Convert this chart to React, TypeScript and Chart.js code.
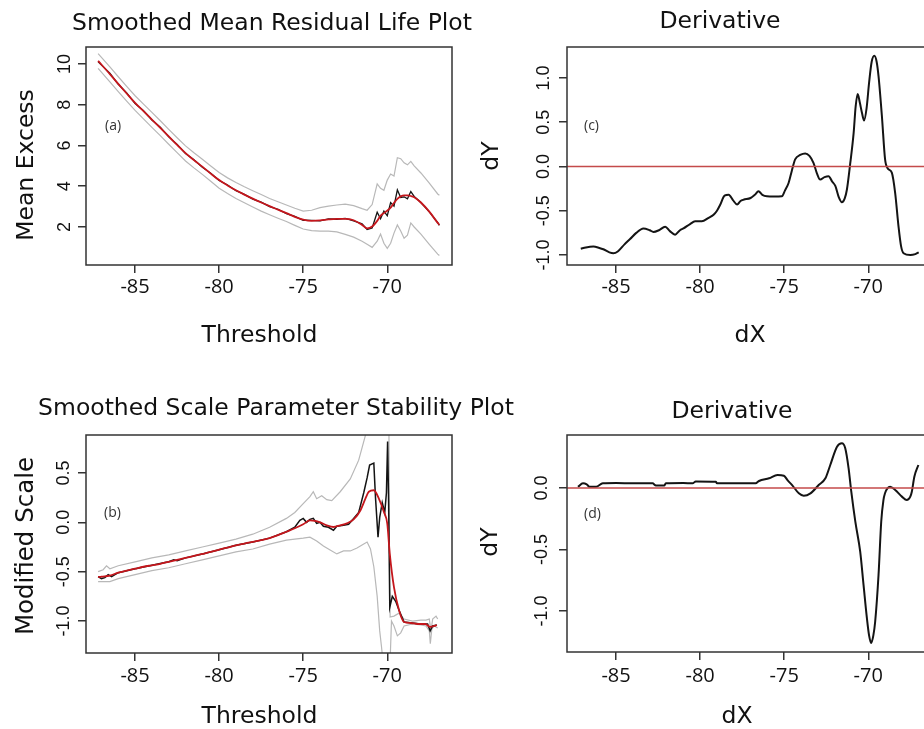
import React, { useEffect, useRef } from 'react';
import { Chart, registerables } from 'chart.js';

Chart.register(...registerables);

// ---------- shared axis values ----------
const X_MIN = -87.92;
const X_MAX = -66.15;
const xTickValues = [-85, -80, -75, -70];
const ZERO_LEVEL = 0;

// ---------- panel (a): mean residual life ----------
const xA = [-87.2, -86.5, -86, -85.5, -85, -84.5, -84, -83.5, -83, -82.5, -82, -81.5, -81, -80.5, -80, -79.5, -79, -78.5, -78, -77.5, -77, -76.5, -76, -75.5, -75, -74.5, -74, -73.5, -73, -72.5, -72, -71.5, -71.2, -70.9, -70.6, -70.4, -70.2, -70, -69.8, -69.6, -69.4, -69.2, -69, -68.8, -68.6, -68.4, -68, -67.5, -67, -66.9];
const smoothA = [10.15, 9.5, 9.02, 8.55, 8.09, 7.68, 7.27, 6.86, 6.44, 6.03, 5.62, 5.28, 4.96, 4.62, 4.3, 4.04, 3.8, 3.59, 3.39, 3.2, 3.02, 2.85, 2.68, 2.5, 2.36, 2.3, 2.32, 2.37, 2.4, 2.4, 2.33, 2.1, 1.93, 2.02, 2.3, 2.55, 2.68, 2.8, 2.95, 3.18, 3.38, 3.5, 3.55, 3.55, 3.52, 3.46, 3.2, 2.75, 2.2, 2.1];
const rawA = [10.1, 9.55, 9.0, 8.58, 8.05, 7.7, 7.25, 6.9, 6.42, 6.05, 5.6, 5.3, 4.93, 4.64, 4.28, 4.06, 3.78, 3.6, 3.37, 3.22, 3.0, 2.87, 2.66, 2.52, 2.33, 2.32, 2.3, 2.4, 2.38, 2.42, 2.3, 2.15, 1.88, 1.95, 2.72, 2.4, 2.78, 2.55, 3.2, 3.02, 3.82, 3.45, 3.48, 3.38, 3.74, 3.5, 3.2, 2.74, 2.22, 2.08];
const upperA = [10.5, 9.85, 9.37, 8.9, 8.44, 8.03, 7.62, 7.21, 6.79, 6.38, 5.98, 5.64, 5.32, 4.99, 4.67, 4.41, 4.18, 3.97, 3.78, 3.59, 3.4, 3.24, 3.08, 2.92, 2.78, 2.82, 2.95, 3.02, 3.08, 3.12, 3.05, 2.9, 2.82, 3.1, 4.12, 3.9, 3.8, 4.3, 4.6, 4.5, 5.4, 5.35, 5.15, 5.05, 5.22, 5.0, 4.65, 4.15, 3.62, 3.56];
const lowerA = [9.78, 9.12, 8.64, 8.17, 7.72, 7.3, 6.89, 6.48, 6.06, 5.65, 5.24, 4.9, 4.58, 4.24, 3.9, 3.64, 3.4, 3.19, 2.98, 2.78, 2.6, 2.43, 2.27, 2.08, 1.9, 1.82, 1.8, 1.8, 1.76, 1.64, 1.5, 1.3, 1.15, 1.0, 1.3, 1.65, 1.2, 0.95, 1.2, 1.7, 2.1, 1.8, 1.45, 1.6, 2.2, 2.0, 1.65, 1.15, 0.67, 0.6];
const yTicksA = [2, 4, 6, 8, 10];

// ---------- panel (b): scale parameter stability ----------
const xBsmooth = [-87.2, -87, -86.5, -86, -85.5, -85, -84.5, -84, -83.5, -83, -82.5, -82, -81.5, -81, -80.5, -80, -79.5, -79, -78.5, -78, -77.5, -77, -76.5, -76, -75.5, -75, -74.6, -74.3, -74, -73.6, -73.2, -72.8, -72.4, -72, -71.6, -71.3, -71.1, -70.8, -70.5, -70.2, -70, -69.85, -69.6, -69.3, -69, -68.6, -68.2, -67.74, -67.44, -67.2, -67.05];
const smoothB = [-0.555, -0.55, -0.54, -0.51, -0.49, -0.47, -0.45, -0.435, -0.42, -0.4, -0.38, -0.36, -0.34, -0.32, -0.3, -0.277, -0.255, -0.233, -0.215, -0.197, -0.18, -0.16, -0.13, -0.095, -0.06, -0.02, 0.02, 0.015, 0.0, -0.03, -0.047, -0.03, -0.01, 0.03, 0.12, 0.24, 0.31, 0.325, 0.24, 0.105, -0.013, -0.32, -0.66, -0.89, -1.01, -1.02, -1.03, -1.03, -1.06, -1.05, -1.04];
const xBraw = [-87.2, -87.0, -86.8, -86.6, -86.4, -86, -85, -84, -83, -82.7, -82.5, -82, -81, -80, -79, -78, -77, -76, -75.5, -75.2, -75.0, -74.8, -74.6, -74.4, -74.2, -74.0, -73.8, -73.5, -73.2, -73.0, -72.6, -72.3, -72.0, -71.7, -71.4, -71.2, -71.05, -70.8, -70.7, -70.55, -70.45, -70.3, -70.15, -70.05, -69.98, -69.92, -69.85, -69.7, -69.5, -69.3, -69.0, -68.5, -68, -67.6, -67.45, -67.3, -67.05];
const rawB = [-0.55, -0.57, -0.56, -0.53, -0.55, -0.51, -0.47, -0.435, -0.4, -0.38, -0.39, -0.36, -0.32, -0.277, -0.233, -0.2, -0.16, -0.095, -0.05, 0.02, 0.04, 0.0, 0.03, 0.04, -0.01, 0.0, -0.04, -0.05, -0.08, -0.04, -0.03, -0.02, 0.04, 0.1, 0.3, 0.45, 0.58, 0.6, 0.25, -0.15, 0.05, 0.2, 0.1, 0.3, 0.82, 0.2, -0.86, -0.75, -0.8, -0.89, -1.01, -1.02, -1.03, -1.03, -1.1, -1.05, -1.04];
const xBupper = [-87.2, -86.9, -86.7, -86.5, -86, -85, -84, -83, -82, -81, -80, -79, -78, -77, -76, -75.5, -75, -74.6, -74.4, -74.2, -73.9, -73.6, -73.3, -72.8, -72.2, -71.7, -71.3, -71.0, -70.5, -70.0, -69.9, -69.87, -69.83, -69.6, -69.3, -69.0, -68.5, -68, -67.7, -67.5, -67.4, -67.3, -67.1, -67.0];
const upperB = [-0.5, -0.48, -0.44, -0.47, -0.44, -0.4, -0.36, -0.33, -0.29, -0.25, -0.21, -0.17, -0.12, -0.05, 0.04, 0.1, 0.19, 0.26, 0.31, 0.24, 0.27, 0.23, 0.22, 0.31, 0.44, 0.63, 0.88, 1.2, 1.6, 1.6, 0.9, -0.3, -0.96, -0.95, -0.92, -0.98, -1.0, -0.99, -0.99, -0.98, -1.1, -0.98, -0.95, -0.98];
const xBlower = [-87.2, -86.5, -86, -85, -84, -83, -82, -81, -80, -79, -78, -77, -76, -75.5, -75, -74.6, -74.2, -73.8, -73.4, -73.0, -72.6, -72.2, -71.8, -71.5, -71.2, -71.0, -70.8, -70.6, -70.45, -70.35, -70.2, -70.0, -69.85, -69.75, -69.6, -69.4, -69.2, -69.0, -68.5, -68, -67.7, -67.5, -67.44, -67.35, -67.2, -67.0];
const lowerB = [-0.6, -0.6, -0.57, -0.53, -0.49, -0.46, -0.42, -0.38, -0.34, -0.3, -0.27, -0.22, -0.18, -0.17, -0.16, -0.15, -0.19, -0.24, -0.28, -0.32, -0.29, -0.29, -0.26, -0.23, -0.2, -0.27, -0.45, -0.75, -1.1, -1.25, -1.5, -1.4, -1.5, -1.0, -1.05, -1.15, -1.12, -1.05, -1.03, -1.04, -1.05, -1.1, -1.23, -1.08, -1.05, -1.07];
const yTicksB = [-1.0, -0.5, 0.0, 0.5];

// ---------- panel (c): derivative of (a) ----------
const xC = [-87.1, -86.8, -86.35, -86.0, -85.76, -85.4, -85.16, -84.9, -84.5, -84.17, -83.8, -83.38, -83.0, -82.78, -82.45, -82.08, -81.8, -81.49, -81.2, -80.99, -80.6, -80.3, -79.9, -79.5, -79.2, -79.0, -78.8, -78.55, -78.3, -78.05, -77.8, -77.6, -77.42, -77.0, -76.75, -76.53, -76.3, -76.03, -75.6, -75.14, -74.95, -74.74, -74.55, -74.35, -74.05, -73.75, -73.5, -73.26, -73.05, -72.86, -72.6, -72.36, -72.15, -71.96, -71.75, -71.57, -71.4, -71.27, -71.07, -70.87, -70.75, -70.63, -70.5, -70.38, -70.25, -70.1, -69.95, -69.8, -69.64, -69.5, -69.39, -69.19, -69.0, -68.85, -68.6, -68.4, -68.2, -68.05, -67.9, -67.5, -67.2, -67.0];
const derivC = [-0.93, -0.915, -0.905, -0.92, -0.935, -0.97, -0.98, -0.96, -0.88, -0.82, -0.75, -0.70, -0.72, -0.74, -0.72, -0.68, -0.73, -0.77, -0.72, -0.70, -0.65, -0.62, -0.62, -0.58, -0.545, -0.5, -0.43, -0.33, -0.32, -0.38, -0.43, -0.39, -0.375, -0.356, -0.32, -0.28, -0.32, -0.337, -0.34, -0.337, -0.27, -0.186, -0.05, 0.08, 0.13, 0.148, 0.12, 0.042, -0.08, -0.148, -0.12, -0.11, -0.17, -0.22, -0.35, -0.405, -0.36, -0.26, 0.04, 0.38, 0.68, 0.82, 0.72, 0.61, 0.52, 0.66, 0.95, 1.18, 1.25, 1.18, 1.02, 0.57, 0.08, -0.02, -0.07, -0.3, -0.68, -0.9, -0.98, -1.0, -0.99, -0.97];
const yTicksC = [-1.0, -0.5, 0.0, 0.5, 1.0];

// ---------- panel (d): derivative of (b) ----------
const xD = [-87.27, -86.97, -86.75, -86.58, -86.19, -85.79, -85.0, -84.0, -82.83, -82.63, -82.14, -82.04, -81.0, -80.45, -80.26, -79.07, -79.0, -78.0, -76.7, -76.5, -75.9, -75.4, -75.02, -74.78, -74.53, -74.13, -73.84, -73.44, -72.95, -72.55, -72.26, -71.86, -71.57, -71.37, -71.17, -71.01, -70.77, -70.48, -70.28, -70.08, -69.95, -69.83, -69.7, -69.59, -69.39, -69.23, -69.1, -69.0, -68.85, -68.7, -68.4, -68.0, -67.71, -67.5, -67.41, -67.26, -67.02];
const derivD = [0.01, 0.038, 0.03, 0.01, 0.01, 0.038, 0.04, 0.038, 0.038, 0.02, 0.02, 0.038, 0.04, 0.038, 0.054, 0.051, 0.038, 0.038, 0.038, 0.057, 0.079, 0.106, 0.1, 0.06, 0.024, -0.043, -0.062, -0.043, 0.024, 0.079, 0.187, 0.336, 0.363, 0.323, 0.16, -0.03, -0.274, -0.518, -0.79, -1.06, -1.2, -1.26, -1.2, -1.087, -0.707, -0.274, -0.1, -0.04, 0.0, 0.01, -0.016, -0.07, -0.098, -0.07, -0.03, 0.092, 0.187];
const yTicksD = [-1.0, -0.5, 0.0];

// ---------- styling ----------
const RED_SMOOTH = '#c4161c';
const RED_ZERO = '#c44a4a';
const BLACK = '#141414';
const GREY = '#b8b8b8';
const AXIS = '#333333';
const TITLE_FONT = '"DejaVu Sans"';

const pts = (xs: number[], ys: number[]) => xs.map((x, i) => ({ x, y: ys[i] }));

type Txt = { text: string; x: number; y: number; size: number; family?: string; rotate?: boolean; align?: CanvasTextAlign; color?: string };

function decorPlugin(texts: Txt[], ox: number, oy: number) {
  return {
    id: 'panelDecor',
    afterDraw(chart: any) {
      const { ctx, chartArea: a } = chart;
      ctx.save();
      ctx.strokeStyle = AXIS;
      ctx.lineWidth = 1.5;
      ctx.strokeRect(a.left, a.top, a.right - a.left, a.bottom - a.top);
      texts.forEach((t) => {
        ctx.save();
        ctx.font = `${t.size}px ${t.family || TITLE_FONT}`;
        ctx.fillStyle = t.color || '#111';
        ctx.textAlign = t.align || 'center';
        ctx.textBaseline = 'alphabetic';
        ctx.translate(t.x - ox, t.y - oy);
        if (t.rotate) ctx.rotate(-Math.PI / 2);
        ctx.fillText(t.text, 0, 0);
        ctx.restore();
      });
      ctx.restore();
    },
  };
}

type Panel = {
  left: number; top: number; width: number; height: number;
  padTop: number; padRight: number; yAxisWidth: number; xAxisHeight: number;
  yMin: number; yMax: number; yTicks: number[]; yDecimals: number; yTickPad: number; xTickPad: number;
  datasets: any[]; texts: Txt[];
};

const lineDs = (data: any[], color: string, width: number, smooth: boolean) => ({
  data,
  borderColor: color,
  borderWidth: width,
  pointRadius: 0,
  fill: false,
  tension: 0,
  cubicInterpolationMode: smooth ? 'monotone' : 'default',
});

const panels: Panel[] = [
  {
    left: 0, top: 0, width: 540, height: 370,
    padTop: 47, padRight: 88, yAxisWidth: 86, xAxisHeight: 105,
    yMin: 0.135, yMax: 10.83, yTicks: yTicksA, yDecimals: 0, yTickPad: 3, xTickPad: 2,
    datasets: [
      lineDs(pts(xA, smoothA), RED_SMOOTH, 1.8, true),
      lineDs(pts(xA, rawA), BLACK, 1.3, false),
      lineDs(pts(xA, upperA), GREY, 1.2, false),
      lineDs(pts(xA, lowerA), GREY, 1.2, false),
    ],
    texts: [
      { text: 'Smoothed Mean Residual Life Plot', x: 272, y: 30, size: 23.5 },
      { text: 'Mean Excess', x: 33, y: 165, size: 23.5, rotate: true },
      { text: 'Threshold', x: 259.5, y: 342, size: 23.5 },
      { text: '(a)', x: 105, y: 130, size: 14, family: '"Open Sans"', align: 'left', color: '#333' },
    ],
  },
  {
    left: 480, top: 0, width: 480, height: 370,
    padTop: 47, padRight: 27, yAxisWidth: 87, xAxisHeight: 105,
    yMin: -1.113, yMax: 1.35, yTicks: yTicksC, yDecimals: 1, yTickPad: -0.5, xTickPad: 2,
    datasets: [
      lineDs(pts([X_MIN, X_MAX], [ZERO_LEVEL, ZERO_LEVEL]), RED_ZERO, 1.5, false),
      lineDs(pts(xC, derivC), BLACK, 2, true),
    ],
    texts: [
      { text: 'Derivative', x: 720, y: 28, size: 23.5 },
      { text: 'dY', x: 498, y: 156, size: 23.5, rotate: true },
      { text: 'dX', x: 750, y: 342, size: 23.5 },
      { text: '(c)', x: 584, y: 130, size: 14, family: '"Open Sans"', align: 'left', color: '#333' },
    ],
  },
  {
    left: 0, top: 380, width: 540, height: 349,
    padTop: 55, padRight: 88, yAxisWidth: 86, xAxisHeight: 76,
    yMin: -1.324, yMax: 0.885, yTicks: yTicksB, yDecimals: 1, yTickPad: -1.5, xTickPad: 3.5,
    datasets: [
      lineDs(pts(xBsmooth, smoothB), RED_SMOOTH, 1.8, true),
      lineDs(pts(xBraw, rawB), BLACK, 1.5, false),
      lineDs(pts(xBupper, upperB), GREY, 1.2, false),
      lineDs(pts(xBlower, lowerB), GREY, 1.2, false),
    ],
    texts: [
      { text: 'Smoothed Scale Parameter Stability Plot', x: 276, y: 415, size: 23.5 },
      { text: 'Modified Scale', x: 33, y: 546, size: 24.5, rotate: true },
      { text: 'Threshold', x: 259.5, y: 723, size: 23.5 },
      { text: '(b)', x: 104, y: 517, size: 14, family: '"Open Sans"', align: 'left', color: '#333' },
    ],
  },
  {
    left: 480, top: 380, width: 480, height: 349,
    padTop: 55, padRight: 27, yAxisWidth: 87, xAxisHeight: 77,
    yMin: -1.333, yMax: 0.431, yTicks: yTicksD, yDecimals: 1, yTickPad: 1.5, xTickPad: 4.5,
    datasets: [
      lineDs(pts([X_MIN, X_MAX], [ZERO_LEVEL, ZERO_LEVEL]), RED_ZERO, 1.5, false),
      lineDs(pts(xD, derivD), BLACK, 2, true),
    ],
    texts: [
      { text: 'Derivative', x: 732, y: 418, size: 23.5 },
      { text: 'dY', x: 497, y: 542, size: 23.5, rotate: true },
      { text: 'dX', x: 737, y: 723, size: 23.5 },
      { text: '(d)', x: 584, y: 518, size: 14, family: '"Open Sans"', align: 'left', color: '#333' },
    ],
  },
];

function buildConfig(p: Panel): any {
  const grid = { drawOnChartArea: false, drawTicks: true, tickLength: 8, color: AXIS, lineWidth: 1.5 };
  return {
    type: 'line',
    data: { datasets: p.datasets },
    options: {
      responsive: false,
      animation: false,
      events: [],
      layout: { padding: { left: 0, top: p.padTop, right: p.padRight, bottom: 0 } },
      plugins: { legend: { display: false }, tooltip: { enabled: false }, title: { display: false } },
      scales: {
        x: {
          type: 'linear',
          min: X_MIN,
          max: X_MAX,
          afterBuildTicks: (s: any) => { s.ticks = xTickValues.map((v) => ({ value: v })); },
          afterFit: (s: any) => { s.height = p.xAxisHeight; },
          grid,
          border: { display: false },
          ticks: {
            autoSkip: false, minRotation: 0, maxRotation: 0, padding: p.xTickPad, color: '#111',
            font: { family: 'Open Sans', size: 20 },
            callback: (v: number) => String(v),
          },
        },
        y: {
          type: 'linear',
          min: p.yMin,
          max: p.yMax,
          afterBuildTicks: (s: any) => { s.ticks = p.yTicks.map((v) => ({ value: v })); },
          afterFit: (s: any) => { s.width = p.yAxisWidth; },
          grid,
          border: { display: false },
          ticks: {
            autoSkip: false, minRotation: 90, maxRotation: 90, crossAlign: 'center', padding: p.yTickPad, color: '#111',
            font: { family: 'Liberation Sans', size: 18 },
            callback: (v: number) => v.toFixed(p.yDecimals),
          },
        },
      },
    },
    plugins: [decorPlugin(p.texts, p.left, p.top)],
  };
}

function PanelCanvas({ p }: { p: Panel }) {
  const ref = useRef<HTMLCanvasElement | null>(null);
  useEffect(() => {
    if (!ref.current) return;
    const chart = new Chart(ref.current, buildConfig(p));
    return () => chart.destroy();
  }, [p]);
  return (
    <canvas
      ref={ref}
      width={p.width}
      height={p.height}
      style={{ position: 'absolute', left: p.left, top: p.top, width: p.width, height: p.height }}
    />
  );
}

export default function App() {
  return (
    <div style={{ position: 'absolute', left: 0, top: 0, width: 924, height: 729, overflow: 'hidden', background: '#ffffff' }}>
      {panels.map((p, i) => (
        <PanelCanvas key={i} p={p} />
      ))}
    </div>
  );
}
